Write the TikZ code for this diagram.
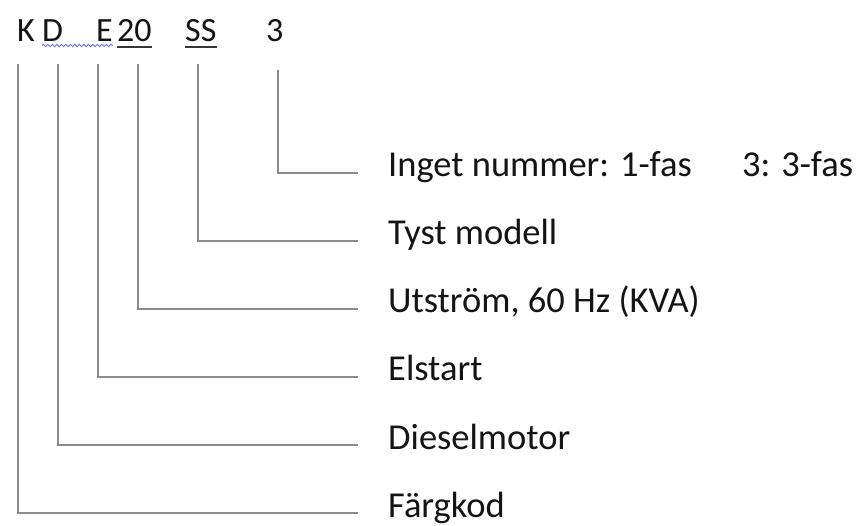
\documentclass[tikz,border=0pt]{standalone}
\usepackage{fontspec}
\setmainfont{Carlito}
\usetikzlibrary{decorations.pathmorphing}
\definecolor{linegray}{RGB}{140,140,140}
\definecolor{txt}{RGB}{20,20,20}
\definecolor{spell}{RGB}{110,110,230}
\begin{document}
\begin{tikzpicture}[x=1pt,y=-1pt,
  hdr/.style={anchor=base west,inner sep=0pt,text=txt,font=\fontsize{34}{38}\selectfont},
  lbl/.style={anchor=base west,inner sep=0pt,text=txt,font=\fontsize{36.5}{40}\selectfont},
  conn/.style={draw=linegray,line width=2pt},
  uline/.style={draw=txt!85,line width=2pt}]
\useasboundingbox (0,0) rectangle (862,526);
% header code
\node[hdr] (hK) at (17,42) {K};
\node[hdr] (hD) at (42,42) {D};
\node[hdr] (hE) at (96,42) {E};
\node[hdr] (h20) at (117,42) {20};
\node[hdr] (hSS) at (185,42) {SS};
\node[hdr] (h3) at (266,42) {3};
\draw[uline] ([yshift=-5.5pt]h20.base west) -- ([yshift=-5.5pt]h20.base east);
\draw[uline] ([yshift=-5.5pt]hSS.base west) -- ([yshift=-5.5pt]hSS.base east);
\draw[spell,line width=0.9pt,decorate,decoration={snake,amplitude=1.2pt,segment length=4.5pt}]
  ([yshift=-3.5pt]hD.base west) -- ([yshift=-3.5pt]hE.base east);
% labels
\node[lbl] (l3) at (388,177) {Inget nummer: 1-fas};
\node[lbl] (l3b) at (742,177) {3: 3-fas};
\node[lbl] (lSS) at (388,245) {Tyst modell};
\node[lbl] (l20) at (388,313) {Utström, 60 Hz (KVA)};
\node[lbl] (lE) at (388,381) {Elstart};
\node[lbl] (lD) at (388,449) {Dieselmotor};
\node[lbl] (lK) at (388,517) {Färgkod};
% connector ends
\coordinate (t3) at (278,70);
\coordinate (tSS) at (198,64);
\coordinate (t20) at (138,64);
\coordinate (tE) at (98,64);
\coordinate (tD) at (58,64);
\coordinate (tK) at (18,64);
\coordinate (e3) at (358,173);
\coordinate (eSS) at (358,241);
\coordinate (e20) at (358,309);
\coordinate (eE) at (358,377);
\coordinate (eD) at (358,445);
\coordinate (eK) at (358,513);
\draw[conn] (t3) |- (e3);
\draw[conn] (tSS) |- (eSS);
\draw[conn] (t20) |- (e20);
\draw[conn] (tE) |- (eE);
\draw[conn] (tD) |- (eD);
\draw[conn] (tK) |- (eK);
\end{tikzpicture}
\end{document}
